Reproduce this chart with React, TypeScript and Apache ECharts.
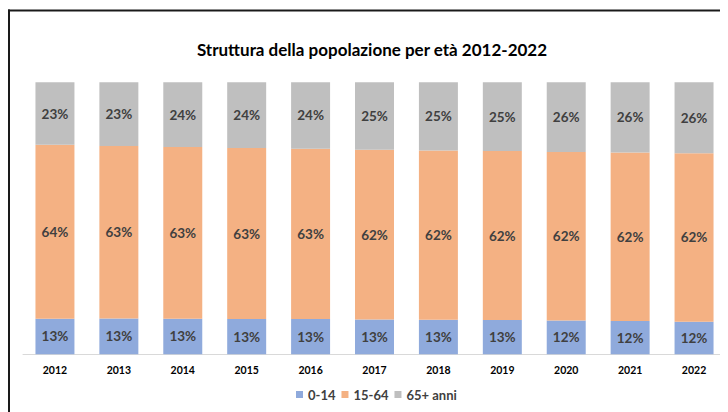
import React, { useEffect, useRef } from "react";
import * as echarts from "echarts";

const years = ["2012", "2013", "2014", "2015", "2016", "2017", "2018", "2019", "2020", "2021", "2022"];
const age0to14 = [13.1, 13.2, 13.1, 13.0, 13.0, 12.8, 12.7, 12.6, 12.4, 12.2, 12.0];
const age15to64 = [63.9, 63.4, 63.1, 62.8, 62.6, 62.4, 62.2, 62.1, 62.0, 62.0, 61.9];
const age65plus = [23.0, 23.4, 23.8, 24.2, 24.4, 24.8, 25.1, 25.3, 25.6, 25.8, 26.1];
const seriesNames = ["0-14", "15-64", "65+ anni"];
const titleText = "Struttura della popolazione per età 2012-2022";

const FONT = "Lato";

export default function App() {
  const ref = useRef<HTMLDivElement>(null);
  useEffect(() => {
    if (!ref.current) return;
    const chart = echarts.init(ref.current, undefined, { renderer: "svg" });
    const label = {
      show: true,
      position: "inside",
      fontFamily: FONT,
      fontSize: 13.5,
      fontWeight: "bold",
      color: "#404040",
      formatter: (p: any) => Math.round(p.value) + "%",
    };
    const mk = (name: string, data: number[], color: string) => ({
      name,
      type: "bar",
      stack: "total",
      data,
      barCategoryGap: "39%",
      itemStyle: { color },
      label,
    });
    chart.setOption({
      animation: false,
      textStyle: { fontFamily: FONT },
      graphic: [
        {
          type: "line",
          shape: { x1: 0, y1: 2.5, x2: 720, y2: 2.5 },
          style: { stroke: "#1a1a1a", lineWidth: 2 },
        },
        {
          type: "line",
          shape: { x1: 1, y1: 1.5, x2: 1, y2: 404 },
          style: { stroke: "#1a1a1a", lineWidth: 2 },
        },
        {
          type: "text",
          x: 364,
          y: 41,
          style: {
            text: titleText,
            fontFamily: FONT,
            fontSize: 17,
            fontWeight: "bold",
            fill: "#000000",
            textAlign: "center",
            textVerticalAlign: "middle",
          },
        },
      ],
      grid: { left: 15, right: 2, top: 74.3, bottom: 57.7, containLabel: false },
      legend: {
        data: seriesNames,
        left: 283,
        top: 375,
        itemWidth: 7,
        itemHeight: 7,
        itemGap: 6,
        icon: "rect",
        textStyle: { fontFamily: FONT, fontSize: 13, fontWeight: "bold", color: "#404040" },
      },
      xAxis: {
        type: "category",
        data: years,
        axisTick: { show: false },
        axisLine: { lineStyle: { color: "#D9D9D9", width: 1 } },
        axisLabel: { fontFamily: FONT, fontSize: 10.5, fontWeight: "bold", color: "#000000", margin: 10 },
      },
      yAxis: {
        type: "value",
        min: 0,
        max: 100,
        show: false,
        splitLine: { show: false },
      },
      series: [
        mk(seriesNames[0], age0to14, "#8FAADC"),
        mk(seriesNames[1], age15to64, "#F4B183"),
        mk(seriesNames[2], age65plus, "#BFBFBF"),
      ],
    });
    return () => chart.dispose();
  }, []);
  return <div ref={ref} style={{ width: 720, height: 404 }} />;
}
